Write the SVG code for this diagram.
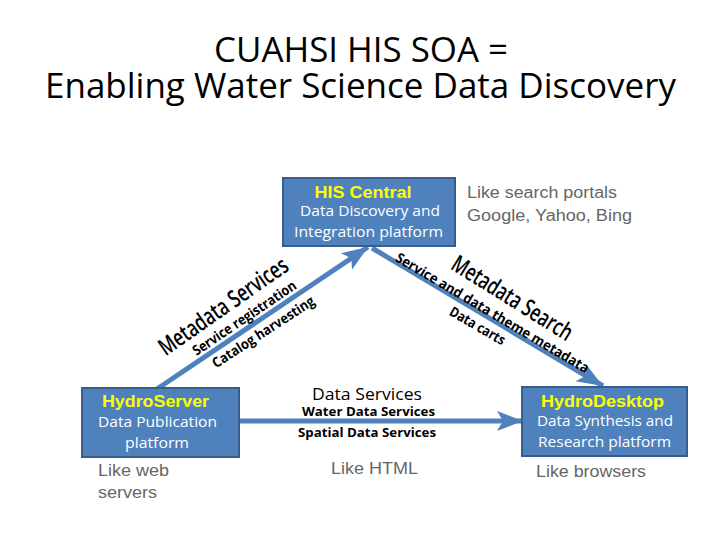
<svg xmlns="http://www.w3.org/2000/svg" width="720" height="540" viewBox="0 0 720 540">
<defs>
<marker id="ah" markerUnits="userSpaceOnUse" markerWidth="30" markerHeight="24" viewBox="0 -12 30 24" refX="26" refY="0" orient="auto">
<path d="M0,-10 L26,0 L0,10 L6,0 Z" fill="#4f81bd"/>
</marker>
<style>
.box{fill:#4f81bd;stroke:#385d8a;stroke-width:2}
.conn{stroke:#4f81bd;stroke-width:5;fill:none}
.ttl{font-family:"Open Sans","Liberation Sans",sans-serif;font-size:35px;fill:#000;text-anchor:middle}
.nm{font-family:"Liberation Sans",Arial,sans-serif;font-weight:bold;font-size:16px;fill:#ffff00;text-anchor:middle}
.sub{font-family:"Open Sans","Liberation Sans",sans-serif;font-size:14px;fill:#fff;text-anchor:middle}
.like{font-family:"Liberation Sans",Arial,sans-serif;font-size:16px;fill:#666}
.ds{font-family:"Open Sans","Liberation Sans",sans-serif;fill:#000;text-anchor:middle}
.rot{font-family:"Open Sans","Liberation Sans",sans-serif;fill:#000;text-anchor:middle}
</style>
</defs>
<g id="title">
<text class="ttl" x="361" y="62" textLength="294" lengthAdjust="spacingAndGlyphs">CUAHSI HIS SOA =</text>
<text class="ttl" x="360.5" y="98" textLength="631" lengthAdjust="spacingAndGlyphs">Enabling Water Science Data Discovery</text>
</g>
<g id="connectors">
<line class="conn" x1="157" y1="389" x2="368" y2="247" marker-end="url(#ah)"/>
<line class="conn" x1="372" y1="248" x2="603" y2="386" marker-end="url(#ah)"/>
<line class="conn" x1="239" y1="421" x2="523" y2="421" marker-end="url(#ah)"/>
</g>
<g id="his-central">
<rect class="box" x="283" y="178" width="172" height="68"/>
<text class="nm" x="363" y="198" textLength="97" lengthAdjust="spacingAndGlyphs">HIS Central</text>
<text class="sub" x="370" y="216" textLength="140" lengthAdjust="spacingAndGlyphs">Data Discovery and</text>
<text class="sub" x="368.5" y="237" textLength="149" lengthAdjust="spacingAndGlyphs">Integration platform</text>
</g>
<g id="his-central-note">
<text class="like" x="467" y="198" textLength="150" lengthAdjust="spacingAndGlyphs">Like search portals</text>
<text class="like" x="467" y="221" textLength="165" lengthAdjust="spacingAndGlyphs">Google, Yahoo, Bing</text>
</g>
<g id="hydroserver">
<rect class="box" x="82" y="388" width="157" height="69"/>
<text class="nm" x="155.5" y="407" textLength="107" lengthAdjust="spacingAndGlyphs">HydroServer</text>
<text class="sub" x="157.5" y="427" textLength="119" lengthAdjust="spacingAndGlyphs">Data Publication</text>
<text class="sub" x="157" y="448" textLength="64" lengthAdjust="spacingAndGlyphs">platform</text>
</g>
<g id="hydroserver-note">
<text class="like" x="98" y="476" textLength="71" lengthAdjust="spacingAndGlyphs">Like web</text>
<text class="like" x="98" y="498" textLength="59" lengthAdjust="spacingAndGlyphs">servers</text>
</g>
<g id="data-services">
<text class="ds" x="367" y="400" font-size="16" textLength="110" lengthAdjust="spacingAndGlyphs">Data Services</text>
<text class="ds" x="368.5" y="416" font-size="12" font-weight="700" textLength="133" lengthAdjust="spacingAndGlyphs">Water Data Services</text>
<text class="ds" x="367" y="437" font-size="12" font-weight="700" textLength="138" lengthAdjust="spacingAndGlyphs">Spatial Data Services</text>
<text class="like" x="331" y="474" textLength="87" lengthAdjust="spacingAndGlyphs">Like HTML</text>
</g>
<g id="hydrodesktop">
<rect class="box" x="522" y="387" width="165" height="69"/>
<text class="nm" x="602.5" y="407" textLength="123" lengthAdjust="spacingAndGlyphs">HydroDesktop</text>
<text class="sub" x="605" y="426" textLength="136" lengthAdjust="spacingAndGlyphs">Data Synthesis and</text>
<text class="sub" x="604.5" y="447" textLength="133" lengthAdjust="spacingAndGlyphs">Research platform</text>
</g>
<g id="hydrodesktop-note">
<text class="like" x="536" y="477" textLength="110" lengthAdjust="spacingAndGlyphs">Like browsers</text>
</g>
<g id="left-labels">
<text class="rot" transform="translate(228,313) rotate(-35)" font-size="24" font-weight="600" textLength="152" lengthAdjust="spacingAndGlyphs">Metadata Services</text>
<text class="rot" transform="translate(247,322) rotate(-34)" font-size="14" font-weight="700" textLength="122" lengthAdjust="spacingAndGlyphs">Service registration</text>
<text class="rot" transform="translate(266,336) rotate(-33)" font-size="14" font-weight="700" textLength="119" lengthAdjust="spacingAndGlyphs">Catalog harvesting</text>
</g>
<g id="right-labels">
<text class="rot" transform="translate(508,305) rotate(32)" font-size="24" font-weight="600" textLength="138" lengthAdjust="spacingAndGlyphs">Metadata Search</text>
<text class="rot" transform="translate(490,317) rotate(30.6)" font-size="14" font-weight="700" textLength="222" lengthAdjust="spacingAndGlyphs">Service and data theme metadata</text>
<text class="rot" transform="translate(475,330) rotate(30)" font-size="14" font-weight="700" textLength="62" lengthAdjust="spacingAndGlyphs">Data carts</text>
</g>
</svg>
